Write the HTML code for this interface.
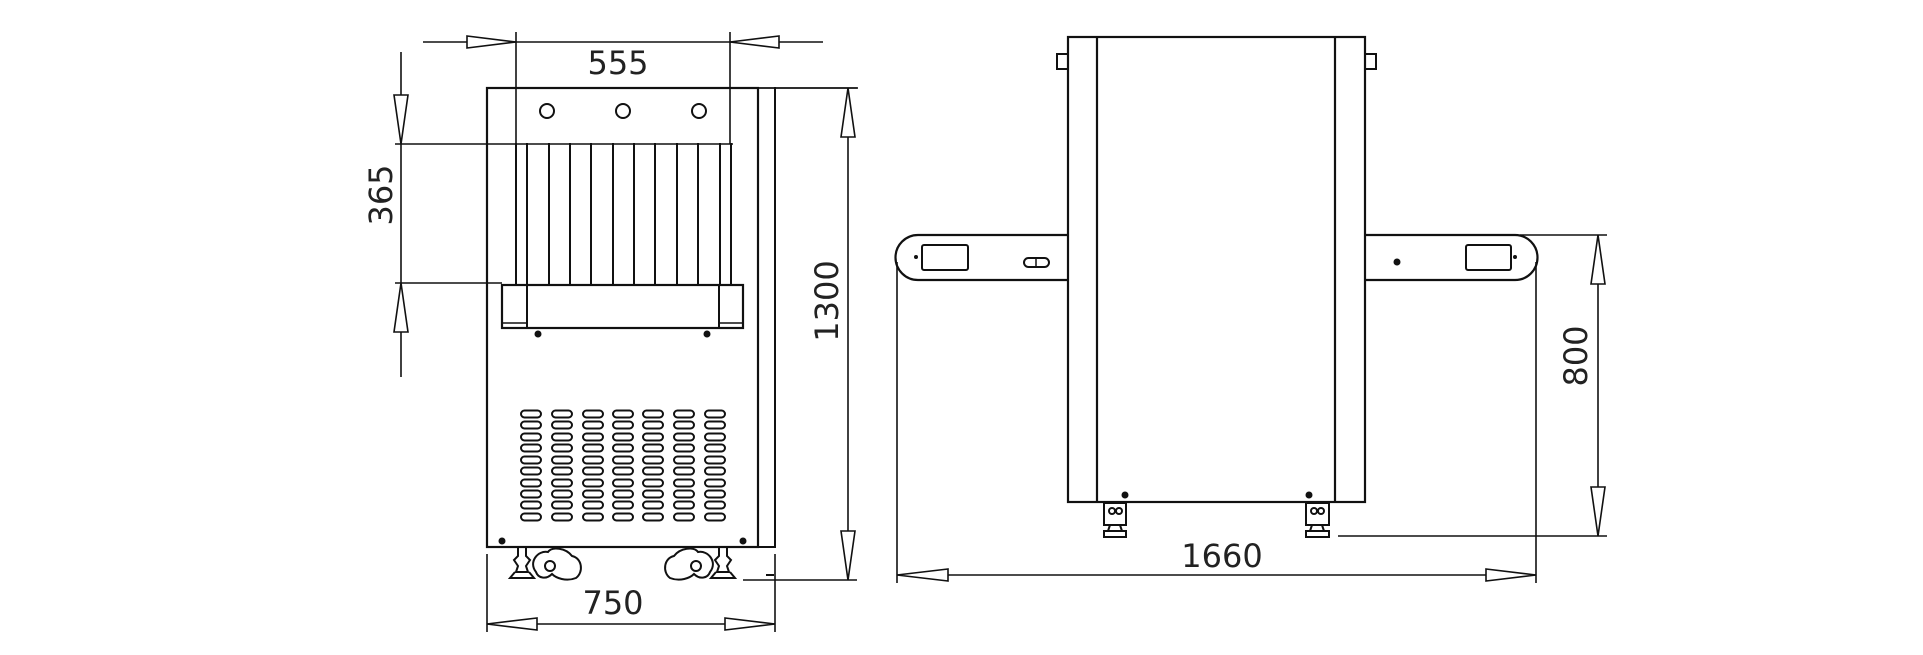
<!DOCTYPE html>
<html><head><meta charset="utf-8"><style>
html,body{margin:0;padding:0;background:#fff;}
svg{display:block;}
text{font-family:"DejaVu Sans","Liberation Sans",sans-serif;fill:#222;}
</style></head><body>
<svg width="1923" height="655" viewBox="0 0 1923 655" xmlns="http://www.w3.org/2000/svg">
<defs>
<g id="vent"><rect x="-10" y="-3.5" width="20" height="7" rx="3.5" fill="none" stroke="#111" stroke-width="2"/></g>
</defs>
<g stroke="#111" fill="none" stroke-linecap="square">
<!-- ===== LEFT VIEW ===== -->
<!-- body -->
<rect x="487" y="88" width="271" height="459" stroke-width="2.2"/>
<line x1="775" y1="88" x2="775" y2="547" stroke-width="2"/>
<line x1="758" y1="88" x2="857" y2="88" stroke-width="1.8"/>
<line x1="758" y1="547" x2="775" y2="547" stroke-width="2"/>
<!-- holes -->
<circle cx="547" cy="111" r="7" stroke-width="2"/>
<circle cx="623" cy="111" r="7" stroke-width="2"/>
<circle cx="699" cy="111" r="7" stroke-width="2"/>
<!-- slats -->
<g stroke-width="2">
<line x1="516" y1="144" x2="516" y2="285"/>
<line x1="527" y1="144" x2="527" y2="285"/>
<line x1="549" y1="144" x2="549" y2="285"/>
<line x1="570" y1="144" x2="570" y2="285"/>
<line x1="591" y1="144" x2="591" y2="285"/>
<line x1="613" y1="144" x2="613" y2="285"/>
<line x1="634" y1="144" x2="634" y2="285"/>
<line x1="655" y1="144" x2="655" y2="285"/>
<line x1="677" y1="144" x2="677" y2="285"/>
<line x1="698" y1="144" x2="698" y2="285"/>
<line x1="720" y1="144" x2="720" y2="285"/>
<line x1="731" y1="144" x2="731" y2="285"/>
</g>
<!-- tray -->
<rect x="502" y="285" width="241" height="43" stroke-width="2.2"/>
<line x1="527" y1="285" x2="527" y2="328" stroke-width="2"/>
<line x1="719" y1="285" x2="719" y2="328" stroke-width="2"/>
<line x1="502" y1="323" x2="527" y2="323" stroke-width="1.5"/>
<line x1="719" y1="323" x2="743" y2="323" stroke-width="1.5"/>
</g>
<g fill="#111">
<circle cx="538" cy="334" r="3.5"/><circle cx="707" cy="334" r="3.5"/>
<circle cx="502" cy="541" r="3.5"/><circle cx="743" cy="541" r="3.5"/>
</g>
<!-- vents -->
<g>
<use href="#vent" x="531" y="414"/><use href="#vent" x="562" y="414"/><use href="#vent" x="593" y="414"/><use href="#vent" x="623" y="414"/><use href="#vent" x="653" y="414"/><use href="#vent" x="684" y="414"/><use href="#vent" x="715" y="414"/>
<use href="#vent" x="531" y="425"/><use href="#vent" x="562" y="425"/><use href="#vent" x="593" y="425"/><use href="#vent" x="623" y="425"/><use href="#vent" x="653" y="425"/><use href="#vent" x="684" y="425"/><use href="#vent" x="715" y="425"/>
<use href="#vent" x="531" y="437"/><use href="#vent" x="562" y="437"/><use href="#vent" x="593" y="437"/><use href="#vent" x="623" y="437"/><use href="#vent" x="653" y="437"/><use href="#vent" x="684" y="437"/><use href="#vent" x="715" y="437"/>
<use href="#vent" x="531" y="448"/><use href="#vent" x="562" y="448"/><use href="#vent" x="593" y="448"/><use href="#vent" x="623" y="448"/><use href="#vent" x="653" y="448"/><use href="#vent" x="684" y="448"/><use href="#vent" x="715" y="448"/>
<use href="#vent" x="531" y="460"/><use href="#vent" x="562" y="460"/><use href="#vent" x="593" y="460"/><use href="#vent" x="623" y="460"/><use href="#vent" x="653" y="460"/><use href="#vent" x="684" y="460"/><use href="#vent" x="715" y="460"/>
<use href="#vent" x="531" y="471"/><use href="#vent" x="562" y="471"/><use href="#vent" x="593" y="471"/><use href="#vent" x="623" y="471"/><use href="#vent" x="653" y="471"/><use href="#vent" x="684" y="471"/><use href="#vent" x="715" y="471"/>
<use href="#vent" x="531" y="483"/><use href="#vent" x="562" y="483"/><use href="#vent" x="593" y="483"/><use href="#vent" x="623" y="483"/><use href="#vent" x="653" y="483"/><use href="#vent" x="684" y="483"/><use href="#vent" x="715" y="483"/>
<use href="#vent" x="531" y="494"/><use href="#vent" x="562" y="494"/><use href="#vent" x="593" y="494"/><use href="#vent" x="623" y="494"/><use href="#vent" x="653" y="494"/><use href="#vent" x="684" y="494"/><use href="#vent" x="715" y="494"/>
<use href="#vent" x="531" y="505"/><use href="#vent" x="562" y="505"/><use href="#vent" x="593" y="505"/><use href="#vent" x="623" y="505"/><use href="#vent" x="653" y="505"/><use href="#vent" x="684" y="505"/><use href="#vent" x="715" y="505"/>
<use href="#vent" x="531" y="517"/><use href="#vent" x="562" y="517"/><use href="#vent" x="593" y="517"/><use href="#vent" x="623" y="517"/><use href="#vent" x="653" y="517"/><use href="#vent" x="684" y="517"/><use href="#vent" x="715" y="517"/>
</g>
<!-- feet left view -->
<g stroke="#111" fill="none" stroke-width="2">
<path d="M518 548 L518 556 L514 560 L518 566 L516 572 L528 572 L526 566 L530 560 L526 556 L526 548"/>
<path d="M515 572 L510 578 L534 578 L529 572"/>
<path d="M536 572 C528 562 538 550 548 552 C552 546 566 548 572 556 C582 558 584 572 576 578 C566 582 556 578 552 574 C546 580 538 578 536 572 Z"/>
<circle cx="550" cy="566" r="5"/>
<path d="M719 548 L719 556 L715 560 L719 566 L717 572 L729 572 L727 566 L731 560 L727 556 L727 548"/>
<path d="M716 572 L711 578 L735 578 L730 572"/>
<path d="M710 572 C718 562 708 550 698 552 C694 546 680 548 674 556 C664 558 662 572 670 578 C680 582 690 578 694 574 C700 580 708 578 710 572 Z"/>
<circle cx="696" cy="566" r="5"/>
<line x1="766" y1="575" x2="774" y2="575"/>
</g>
<!-- dims left view -->
<g stroke="#111" fill="none" stroke-width="1.6">
<!-- 555 -->
<line x1="423" y1="42" x2="823" y2="42"/>
<line x1="516" y1="32" x2="516" y2="144"/>
<line x1="730" y1="32" x2="730" y2="144"/>
<polygon points="516,42 467,36 467,48" fill="#fff"/>
<polygon points="730,42 779,36 779,48" fill="#fff"/>
<!-- 365 -->
<line x1="401" y1="52" x2="401" y2="377"/>
<line x1="395" y1="144" x2="733" y2="144"/>
<line x1="395" y1="283" x2="502" y2="283"/>
<polygon points="401,144 394,95 408,95" fill="#fff"/>
<polygon points="401,283 394,332 408,332" fill="#fff"/>
<!-- 1300 -->
<line x1="848" y1="88" x2="848" y2="580"/>
<line x1="743" y1="580" x2="857" y2="580"/>
<polygon points="848,88 841,137 855,137" fill="#fff"/>
<polygon points="848,580 841,531 855,531" fill="#fff"/>
<!-- 750 -->
<line x1="487" y1="554" x2="487" y2="632"/>
<line x1="775" y1="554" x2="775" y2="632"/>
<line x1="487" y1="624" x2="775" y2="624"/>
<polygon points="487,624 537,618 537,630" fill="#fff"/>
<polygon points="775,624 725,618 725,630" fill="#fff"/>
</g>
<text x="618" y="74" font-size="32" text-anchor="middle">555</text>
<text x="613" y="614" font-size="32" text-anchor="middle">750</text>
<text transform="translate(392,195) rotate(-90)" font-size="32" text-anchor="middle">365</text>
<text transform="translate(838,301) rotate(-90)" font-size="32" text-anchor="middle">1300</text>

<!-- ===== RIGHT VIEW ===== -->
<g stroke="#111" fill="none" stroke-width="2.2">
<rect x="1068" y="37" width="297" height="465"/>
<line x1="1097" y1="37" x2="1097" y2="502"/>
<line x1="1335" y1="37" x2="1335" y2="502"/>
<rect x="1057" y="54" width="11" height="15" stroke-width="2"/>
<rect x="1365" y="54" width="11" height="15" stroke-width="2"/>
<!-- left arm -->
<path d="M1068 235 L918 235 A22.5 22.5 0 0 0 918 280 L1068 280"/>
<rect x="922" y="245" width="46" height="25" rx="2" stroke-width="2"/>
<rect x="1024" y="258" width="25" height="9" rx="4.5" stroke-width="2"/>
<line x1="1036" y1="258" x2="1036" y2="267" stroke-width="1.5"/>
<!-- right arm -->
<path d="M1365 235 L1515 235 A22.5 22.5 0 0 1 1515 280 L1365 280"/>
<rect x="1466" y="245" width="45" height="25" rx="2" stroke-width="2"/>
</g>
<g fill="#111">
<circle cx="916" cy="257" r="2"/><circle cx="1515" cy="257" r="2"/>
<circle cx="1397" cy="262" r="3.5"/>
<circle cx="1125" cy="495" r="3.5"/><circle cx="1309" cy="495" r="3.5"/>
</g>
<!-- feet right view -->
<g stroke="#111" fill="none" stroke-width="2">
<rect x="1104" y="503" width="22" height="22"/>
<circle cx="1112" cy="511" r="3"/><circle cx="1119" cy="511" r="3"/>
<path d="M1110 525 L1108 531 L1122 531 L1120 525"/>
<rect x="1104" y="531" width="22" height="6"/>
<rect x="1306" y="503" width="23" height="22"/>
<circle cx="1314" cy="511" r="3"/><circle cx="1321" cy="511" r="3"/>
<path d="M1312 525 L1310 531 L1324 531 L1322 525"/>
<rect x="1306" y="531" width="23" height="6"/>
</g>
<!-- dims right view -->
<g stroke="#111" fill="none" stroke-width="1.6">
<line x1="897" y1="262" x2="897" y2="583"/>
<line x1="1536" y1="262" x2="1536" y2="583"/>
<line x1="897" y1="575" x2="1536" y2="575"/>
<polygon points="897,575 948,569 948,581" fill="#fff"/>
<polygon points="1536,575 1486,569 1486,581" fill="#fff"/>
<line x1="1520" y1="235" x2="1607" y2="235"/>
<line x1="1338" y1="536" x2="1607" y2="536"/>
<line x1="1598" y1="235" x2="1598" y2="536"/>
<polygon points="1598,235 1591,284 1605,284" fill="#fff"/>
<polygon points="1598,536 1591,487 1605,487" fill="#fff"/>
</g>
<text x="1222" y="567" font-size="32" text-anchor="middle">1660</text>
<text transform="translate(1587,356) rotate(-90)" font-size="32" text-anchor="middle">800</text>
</svg>
</body></html>
